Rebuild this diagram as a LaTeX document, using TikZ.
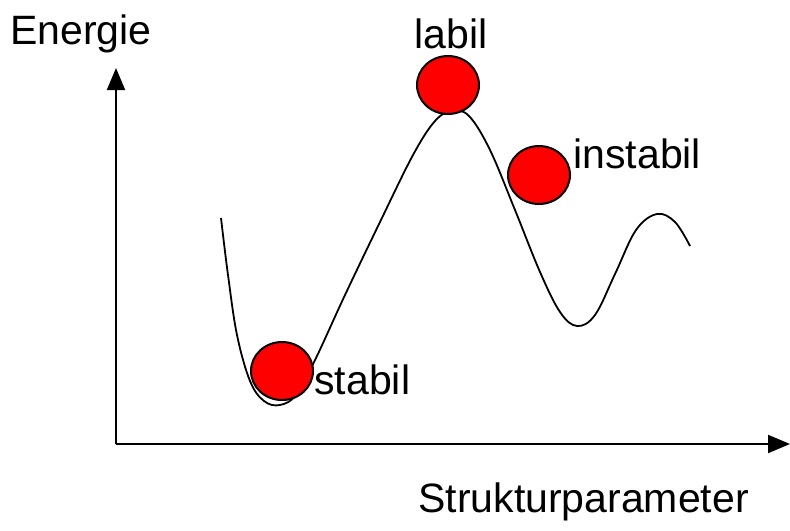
\documentclass[tikz,border=0pt]{standalone}
\usepackage{fontspec}
\setmainfont{Liberation Sans}
\usepackage{tikz}
\usetikzlibrary{arrows.meta,positioning,shapes.geometric}

\begin{document}
\begin{tikzpicture}[x=0.5pt, y=-0.5pt,
      lbl/.style={anchor=base west, inner sep=0pt, font=\fontsize{20.5}{24}\selectfont},
      ball/.style={draw, ellipse, fill=red, line width=1pt, minimum width=31pt, minimum height=29pt, inner sep=0pt},
      axis/.style={-{Triangle[length=11pt, width=9pt]}, line width=1pt},
      curve/.style={line width=0.9pt}
    ]
    \useasboundingbox (0,0) rectangle (790,530);
    % axes
    \coordinate (o) at (116,444);
    \coordinate (ytip) at (116,68);
    \coordinate (xtip) at (790,444);
    \draw[axis] (o) -- (ytip);
    \draw[axis] (o) -- (xtip);
    % energy landscape
    \draw[curve] plot[smooth, tension=0.6] coordinates {(221,218) (228,275) (237,335) (250,381) (264,401) (280,405) (297,394) (316,358) (345,295) (380,222) (413,155) (435,121) (452,111) (469,116) (490,150) (515,210) (540,272) (560,312) (577,326) (595,315) (615,274) (636,230) (657,214) (675,222) (690,246)};
    % balls
    \node[ball] (b1) at (282,371) {};
    \node[ball] (b2) at (448,85) {};
    \node[ball] (b3) at (539,175) {};
    % labels
    \node[lbl] (energie) at (10,44) {Energie};
    \node[lbl] (labil) at (414,48) {labil};
    \node[lbl] (instabil) at (573,168) {instabil};
    \node[lbl] (stabil) at (314,394) {stabil};
    \node[lbl] (struktur) at (418,512) {Strukturparameter};
\end{tikzpicture}
\end{document}
